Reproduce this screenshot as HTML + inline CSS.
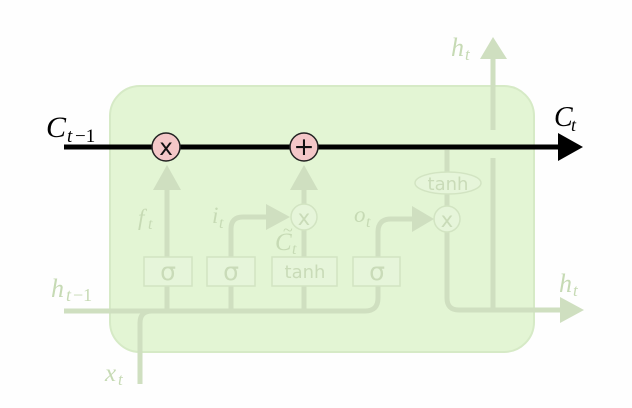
<!DOCTYPE html>
<html><head><meta charset="utf-8"><style>
html,body{margin:0;padding:0;background:#fff;}
svg{display:block;}
.it{font-family:"Liberation Serif",serif;font-style:italic;}
.rm{font-family:"Liberation Serif",serif;}
.sans{font-family:"DejaVu Sans","Liberation Sans",sans-serif;}
</style></head><body>
<svg width="632" height="408" viewBox="0 0 632 408" xmlns="http://www.w3.org/2000/svg">
<rect x="0" y="0" width="632" height="408" fill="#fefefe"/>
<rect x="110" y="86" width="424" height="266" rx="30" ry="30" fill="#e3f5d4" stroke="#d6eac6" stroke-width="2"/>

<g fill="none" stroke="#cfdfc0" stroke-width="5" stroke-linecap="butt">
  <path d="M64 311 H365 Q378 311 378 298 V286"/>
  <path d="M140 384 V323 Q140 311 152 311"/>
  <path d="M167 311 V189"/>
  <path d="M231 311 V229 Q231 217 243 217 H268"/>
  <path d="M304 311 V230"/>
  <path d="M304 204 V189"/>
  <path d="M378 257 V232 Q378 219 391 219 H414"/>
  <path d="M447 232 V298 Q447 310 459 310 H562"/>
  <path d="M447 150 V173"/>
  <path d="M447 194 V206"/>
  <path d="M493 158 V310"/>
  <path d="M493 130 V57"/>
</g>
<g fill="#cfdfc0">
  <polygon points="153,190 181,190 167,165"/>
  <polygon points="290,190 318,190 304,165"/>
  <polygon points="266,204 266,230 290,217"/>
  <polygon points="412,206 412,232 434,219"/>
  <polygon points="560,297 560,323 584,310"/>
  <polygon points="480,59 507,59 493,37"/>
</g>

<!-- gate boxes -->
<g fill="#e6f5da" stroke="#d2e4c2" stroke-width="1.5">
  <rect x="144" y="257" width="48" height="29"/>
  <rect x="207" y="257" width="48" height="29"/>
  <rect x="272" y="257" width="65" height="29"/>
  <rect x="353" y="257" width="47" height="29"/>
  <ellipse cx="448" cy="183" rx="33" ry="11"/>
  <circle cx="304" cy="217" r="13"/>
  <circle cx="447" cy="219" r="13"/>
</g>
<g fill="#c9dbb8" class="sans" text-anchor="middle">
  <text x="168" y="280" font-size="25">σ</text>
  <text x="231" y="280" font-size="25">σ</text>
  <text x="377" y="280" font-size="25">σ</text>
  <text x="305" y="278" font-size="18">tanh</text>
  <text x="448" y="190" font-size="18">tanh</text>
  <text x="304" y="225" font-size="21">x</text>
  <text x="447" y="227" font-size="21">x</text>
</g>

<!-- faded labels -->
<g fill="#c6dab4">
  <text class="it" x="138" y="225" font-size="23">f</text>
  <text class="it" x="148" y="229" font-size="16">t</text>
  <text class="it" x="212" y="223" font-size="23">i</text>
  <text class="it" x="219" y="228" font-size="16">t</text>
  <text class="it" x="275" y="250" font-size="25">C</text>
  <text class="rm" x="283" y="236" font-size="18">~</text>
  <text class="it" x="292" y="254" font-size="16">t</text>
  <text class="it" x="354" y="222" font-size="23">o</text>
  <text class="it" x="366" y="227" font-size="16">t</text>
  <text class="it" x="451" y="56" font-size="26">h</text>
  <text class="it" x="465" y="60" font-size="17">t</text>
  <text class="it" x="559" y="292" font-size="26">h</text>
  <text class="it" x="573" y="296" font-size="17">t</text>
  <text class="it" x="51" y="297" font-size="26">h</text>
  <text class="it" x="66" y="301" font-size="18">t</text>
  <text class="rm" x="73" y="301" font-size="18">−1</text>
  <text class="it" x="105" y="381" font-size="25">x</text>
  <text class="it" x="118" y="385" font-size="17">t</text>
</g>

<!-- cell state line -->
<path d="M64 147 H562" stroke="#000" stroke-width="5" fill="none"/>
<polygon points="558,133 558,161 583,147" fill="#000"/>
<circle cx="166" cy="147" r="14" fill="#f4c7c8" stroke="#222" stroke-width="1.5"/>
<circle cx="304" cy="147" r="14" fill="#f4c7c8" stroke="#222" stroke-width="1.5"/>
<text class="sans" x="166" y="155" font-size="23" text-anchor="middle" fill="#111">x</text>
<text class="sans" x="304" y="155" font-size="25" text-anchor="middle" fill="#111">+</text>

<g fill="#000">
  <text class="it" x="46" y="137" font-size="30">C</text>
  <text class="it" x="67" y="142" font-size="19">t</text>
  <text class="rm" x="75" y="142" font-size="19">−1</text>
  <text class="it" x="554" y="126" font-size="28">C</text>
  <text class="it" x="571" y="131" font-size="18">t</text>
</g>
</svg>
</body></html>
